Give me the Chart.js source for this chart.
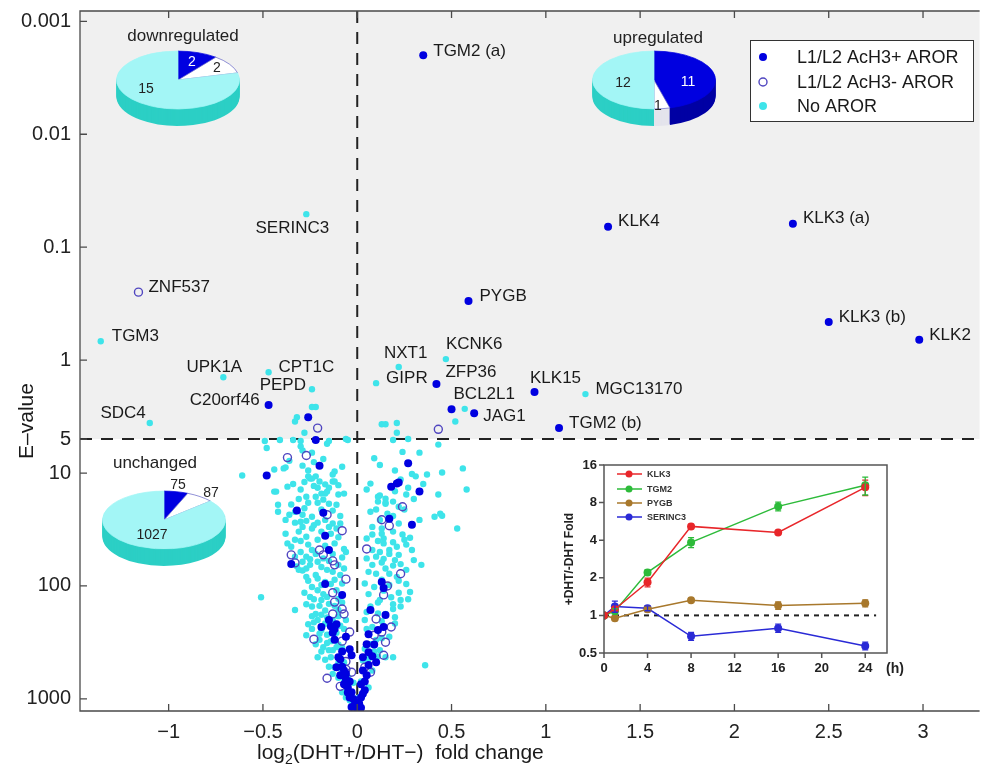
<!DOCTYPE html>
<html lang="en">
<head>
<meta charset="UTF-8" />
<title>DHT response volcano plot</title>
<script src="https://cdn.jsdelivr.net/npm/chart.js@4"></script>
<style>
  body { margin: 0; background: #fff; }
  .wrap { position: relative; width: 985px; height: 770px; overflow: hidden; }
  .wrap canvas { position: absolute; }
</style>
</head>
<body>
<div class="wrap">
  <canvas id="main" width="985" height="770" style="left:0;top:0"></canvas>
  <canvas id="pieDown" width="140" height="150"></canvas>
  <canvas id="pieUp" width="140" height="150"></canvas>
  <canvas id="pieSame" width="140" height="150"></canvas>
  <canvas id="inset" width="370" height="240" style="left:545px;top:450px"></canvas>
</div>

<script>
// ---- data: [log2 fold change, E-value] ----
const geneNames  = ['TGM2 (a)', 'KLK4', 'KLK3 (a)', 'KLK3 (b)', 'KLK2', 'SERINC3', 'ZNF537', 'TGM3', 'UPK1A', 'CPT1C', 'PEPD', 'C20orf46', 'SDC4', 'PYGB', 'KCNK6', 'NXT1', 'GIPR', 'ZFP36', 'BCL2L1', 'JAG1', 'KLK15', 'MGC13170', 'TGM2 (b)'];
const geneFold   = [0.35, 1.33, 2.31, 2.50, 2.98, -0.27, -1.16, -1.36, -0.71, -0.47, -0.24, -0.47, -1.10, 0.59, 0.47, 0.22, 0.10, 0.42, 0.50, 0.62, 0.94, 1.21, 1.07];
const geneEvalue = [0.002, 0.066, 0.062, 0.46, 0.66, 0.051, 0.25, 0.68, 1.42, 1.28, 1.81, 2.5, 3.6, 0.30, 0.98, 1.15, 1.6, 1.63, 2.73, 2.96, 1.92, 2.0, 4.0];
const geneClass  = ['pos', 'pos', 'pos', 'pos', 'pos', 'none', 'neg', 'none', 'none', 'none', 'none', 'pos', 'none', 'pos', 'none', 'none', 'none', 'pos', 'pos', 'pos', 'pos', 'none', 'pos'];

const acPosPoints = [
  [-0.26,3.2],[-0.22,5.1],[-0.20,8.6],[-0.48,10.5],[-0.32,21.5],[-0.18,22.5],[-0.17,36],[-0.15,48],[-0.35,64],[-0.17,96],
  [-0.08,120],[-0.15,200],[-0.14,227],[-0.12,241],[-0.11,218],[-0.19,231],[-0.06,282],[-0.04,363],[-0.03,411],[-0.10,428],
  [-0.09,446],[-0.11,525],[-0.07,560],[-0.09,618],[-0.06,671],[-0.05,791],[-0.04,970],[-0.03,875],[-0.01,1070],[0.0,1240],
  [-0.08,520],[-0.06,600],[-0.04,700],[-0.07,740],[-0.02,1000],[-0.05,880],[-0.03,1180],[-0.08,380],[-0.12,300],[-0.13,260],
  [0.27,8.2],[0.21,12.4],[0.18,13.2],[0.22,12.1],[0.33,14.6],[0.29,28.7],[0.17,25.4],[0.13,92],[0.14,104],[0.15,181],
  [0.07,163],[0.14,231],[0.11,246],[0.06,267],[0.05,328],[0.06,386],[0.03,428],[0.10,474],[0.05,618],[0.02,743],
  [0.04,840],[0.02,970],[-0.01,1140],[0.03,560],[0.06,500],[0.04,700],[0.08,420],[0.09,330],[0.01,1100],[0.03,900],[0.02,1200]
];
const acNegPoints = [
  [-0.21,4.0],[-0.37,7.3],[-0.27,7.0],[-0.16,23.4],[-0.08,32.4],[-0.35,53],[-0.33,62.5],[-0.20,48],[-0.18,53],[-0.13,60],
  [-0.12,65],[-0.06,87],[-0.13,115],[-0.12,139],[-0.13,177],[-0.08,160],[-0.07,177],[-0.23,296],[-0.04,256],[-0.08,308],
  [-0.06,466],[-0.16,657],[-0.09,774],[-0.03,581],[-0.06,547],
  [0.43,4.1],[0.24,19.9],[0.13,25.9],[0.17,29.3],[0.05,47],[0.23,78],[0.16,100],[0.14,120],[0.10,196],[0.18,231],
  [0.09,273],[0.13,256],[0.15,315],[0.14,411],[0.07,581],[0.04,525]
];
const noArorPoints = [
  [-0.24,2.6],[-0.22,2.6],[-0.32,3.2],[-0.33,3.5],[-0.28,4.4],[-0.16,5.5],[-0.05,5.1],
  [0.13,3.7],[0.15,3.7],[0.21,3.6],[0.21,4.4],[0.52,3.5],[0.57,2.7],
  [-0.49,5.2],[-0.48,6.0],[-0.41,5.1],[-0.34,5.1],[-0.30,5.2],[-0.30,5.8],[-0.29,6.3],[-0.24,6.6],[-0.15,5.2],[-0.06,5.0],
  [0.19,5.1],[0.27,5.0],[0.43,5.6],
  [-0.61,10.5],[-0.39,9.1],[-0.38,8.9],[-0.29,8.6],[-0.12,9.7],[-0.13,10.3],
  [0.09,7.4],[0.33,6.6],[0.56,9.1],[0.45,9.9],[0.37,10.3],
  [-0.26,10.7],[-0.25,11.2],[-0.22,10.7],[-0.20,11.9],[-0.13,11.9],[-0.37,13.2],[-0.43,14.6],[-0.27,16.2],[-0.22,16.2],
  [-0.19,15.2],[-0.16,14.6],[-0.07,15.2],[-0.42,19.1],[-0.26,18.3],[-0.21,18.3],[-0.15,18.7],[-0.11,19.1],
  [-0.33,22],[-0.36,23.4],[-0.29,23.4],[-0.27,26.5],[-0.33,27.5],[-0.29,30],[-0.31,33],[-0.24,24.4],[-0.21,27.5],[-0.24,31],
  [-0.19,33],[-0.13,28],[-0.11,31],[-0.14,34.5],[-0.27,36.7],[-0.33,39],[-0.37,42],[-0.12,42],[-0.07,47],[-0.24,48],
  [-0.27,55],[-0.13,52],[-0.06,50],[-0.33,55],[-0.38,34.5],[-0.42,22],[-0.44,14.6],[-0.17,15.2],[-0.18,17.2],[-0.10,15.5],
  [-0.12,11.9],[-0.17,12.6],[-0.21,13.5],[-0.24,11.2],
  [-0.29,73],[-0.25,65],[-0.21,61],[-0.16,72],[-0.27,83],[-0.22,80],[-0.24,102],[-0.21,109],[-0.17,92],[-0.23,131],
  [-0.19,133],[-0.15,144],[-0.22,177],[-0.27,273],[-0.19,246],[-0.22,328],[-0.18,348],[-0.15,370],[-0.21,428],[-0.14,428],
  [-0.12,525],[-0.14,308],[-0.11,348],[-0.29,61],[-0.31,72],[-0.24,152],[-0.26,218],[-0.51,126],[-0.33,163],[-0.21,200],
  [-0.13,200],[-0.10,163],[-0.11,109],[-0.14,96],[-0.09,80],[-0.10,65],
  [-0.07,474],[-0.05,640],[-0.08,875],[-0.04,1030],[-0.02,720],[-0.06,970],
  [-0.36,7.8],[-0.23,8.0],[-0.18,7.5],[-0.08,8.8],[-0.26,9.5],[-0.44,9.3],
  [-0.34,12.5],[-0.30,14],[-0.28,12],[-0.23,13],[-0.15,13.5],[-0.10,12.8],[-0.31,17],[-0.35,19],[-0.28,20.5],[-0.19,21],
  [-0.13,21.5],[-0.09,24],[-0.38,26],[-0.30,27],[-0.17,26],[-0.23,29],[-0.15,30],[-0.09,28],
  [-0.35,45],[-0.30,40],[-0.26,43],[-0.21,39],[-0.17,44],[-0.10,37],[-0.30,50],[-0.22,52],[-0.18,57],[-0.15,60],
  [-0.08,56],[-0.25,58],[-0.32,67],[-0.27,70],[-0.19,68],[-0.13,75],[-0.07,70],[-0.26,90],[-0.21,86],[-0.19,98],
  [-0.12,88],[-0.08,95],
  [-0.28,115],[-0.25,125],[-0.18,118],[-0.16,125],[-0.10,130],[-0.27,145],[-0.20,150],[-0.17,165],[-0.12,150],[-0.08,140],
  [-0.24,185],[-0.19,180],[-0.16,190],[-0.10,185],[-0.06,200],[-0.23,210],[-0.17,215],[-0.09,225],[-0.24,240],[-0.20,265],
  [-0.16,270],[-0.11,260],[-0.07,240],[-0.20,300],[-0.16,320],[-0.10,330],[-0.19,380],[-0.13,370],[-0.08,350],
  [-0.17,450],[-0.10,480],[-0.15,520],[-0.08,560],[-0.13,600],[-0.10,650],[-0.07,700],[-0.05,820],
  [0.07,12.4],[0.23,11.4],[0.31,10.7],[0.26,15.5],[0.12,15.8],[0.15,16.9],[0.15,18.3],[0.19,17.9],[0.22,19.9],[0.11,17.9],
  [0.58,14.0],[0.43,15.5],[0.41,24.4],[0.44,22.9],[0.45,23.9],[0.53,31],
  [0.08,35],[0.13,34.5],[0.14,38],[0.21,45],[0.25,39],[0.28,37.4],[0.29,48],[0.30,59],[0.34,65],[0.08,65],
  [0.14,57.5],[0.17,52],[0.23,64],
  [0.11,16.2],[0.15,18.7],[0.10,21],[0.16,22.9],[0.08,30],[0.13,31],[0.14,42],[0.08,48],[0.17,48],[0.10,55],
  [0.20,59],[0.15,70],[0.10,78],[0.21,83],[0.26,96],[0.09,102],[0.18,126],[0.12,133],[0.23,152],[0.07,152],
  [0.15,177],[0.08,231],[0.17,282],[0.07,328],[0.12,370],[0.03,456],[0.08,560],[0.15,428],[0.19,428],[0.02,700],
  [0.06,791],[0.01,970],[0.28,113],[0.27,131],[0.23,133],[0.20,189],[0.36,504],
  [0.24,6.5],[0.12,8.5],[0.20,9.5],[0.29,10.2],[0.35,12.5],[0.27,13.5],[0.05,14],[0.20,14.5],[0.30,17],[0.25,21],
  [0.19,24],[0.07,22],[0.33,26],[0.22,28],[0.12,26],
  [0.19,33],[0.24,35],[0.05,38],[0.11,40],[0.19,41],[0.26,43],[0.12,50],[0.22,53],[0.05,57],[0.13,62],
  [0.19,66],[0.26,72],[0.06,75],[0.17,78],[0.13,88],[0.22,90],[0.04,95],[0.17,98],
  [0.14,110],[0.22,115],[0.06,118],[0.11,140],[0.19,145],[0.05,170],[0.11,175],[0.19,160],[0.04,200],[0.13,205],
  [0.20,215],[0.05,240],[0.13,290],[0.10,300],[0.04,360],[0.09,380],[0.06,440],[0.11,420]
];

const classNames = ['L1/L2 AcH3+ AROR', 'L1/L2 AcH3- AROR', 'No AROR'];
const eCutoff = 5;
const foldTicks = [-1, -0.5, 0, 0.5, 1, 1.5, 2, 2.5, 3];
const foldTickLabels = ['\u22121', '\u22120.5', '0', '0.5', '1', '1.5', '2', '2.5', '3'];
const evalTicks = [0.001, 0.01, 0.1, 1, 5, 10, 100, 1000];
const evalTickLabels = ['0.001', '0.01', '0.1', '1', '5', '10', '100', '1000'];

// pie counts: [AcH3+, AcH3-, none]
const downCounts = [2, 2, 15];
const upCounts = [11, 1, 12];
const unchangedCounts = [75, 87, 1027];

// inset time course
const insetHours = [0, 1, 4, 8, 16, 24];
const insetGenes = ['KLK3', 'TGM2', 'PYGB', 'SERINC3'];
const klk3Fold = [1, 1.12, 1.84, 5.16, 4.62, 10.6];
const tgm2Fold = [1, 1.08, 2.21, 3.84, 7.46, 11.0];
const pygbFold = [1, 0.95, 1.12, 1.32, 1.20, 1.25];
const serinc3Fold = [1, 1.18, 1.14, 0.68, 0.79, 0.57];
const klk3Err = [0, 0.05, 0.15, 0.2, 0.15, 1.5];
const tgm2Err = [0, 0.05, 0.1, 0.35, 0.6, 1.8];
const pygbErr = [0, 0.04, 0.05, 0.05, 0.08, 0.08];
const serinc3Err = [0, 0.12, 0.05, 0.05, 0.06, 0.04];
const hourTicks = [0, 4, 8, 12, 16, 20, 24];
const insetFoldTicks = [0.5, 1, 2, 4, 8, 16];
const insetFoldLabels = ['0.5', '1', '2', '4', '8', '16'];

// ---- styles ----
const FONT = '"Liberation Sans", Arial, Helvetica, sans-serif';
const BLUE = '#0000e0';
const OPEN = '#5046c0';
const CYAN = '#3ee4ea';
Chart.defaults.font.family = FONT;
Chart.defaults.color = '#222';

// label placement next to each gene dot: [dx, dy, align]
const geneLabelPos = [
  [10,-4,'left'], [10,-5,'left'], [10,-5,'left'], [10,-5,'left'], [10,-4,'left'],
  [-14,14,'center'], [10,-5,'left'], [11,-5,'left'], [-9,-10,'center'], [10,-5,'left'],
  [-6,-4,'right'], [-9,-5,'right'], [-4,-10,'right'], [11,-5,'left'], [0,-15,'left'],
  [7,-14,'center'], [10,-5,'left'], [9,-12,'left'], [2,-15,'left'], [9,3,'left'],
  [21,-14,'center'], [10,-5,'left'], [10,-5,'left']
];

const toXY = pts => pts.map(p => ({ x: p[0], y: p[1] }));
const genesOf = cls => geneNames.map((g, i) => [geneFold[i], geneEvalue[i], geneClass[i]])
  .filter(p => p[2] === cls).map(p => [p[0], p[1]]);

const volcanoDecor = {
  id: 'volcanoDecor',
  beforeDraw(chart) {
    const { ctx, chartArea: a, scales: { y } } = chart;
    const y5 = y.getPixelForValue(eCutoff);
    ctx.save();
    ctx.fillStyle = '#f0f0f0';
    ctx.fillRect(a.left, a.top, a.right - a.left, y5 - a.top);
    ctx.restore();
  },
  beforeDatasetsDraw(chart) {
    const { ctx, chartArea: a, scales: { x, y } } = chart;
    const y5 = y.getPixelForValue(eCutoff);
    const x0 = x.getPixelForValue(0);
    ctx.save();
    ctx.strokeStyle = '#222';
    ctx.lineWidth = 2;
    ctx.setLineDash([12, 9]);
    ctx.beginPath();
    ctx.moveTo(a.left, y5); ctx.lineTo(a.right, y5);
    ctx.moveTo(x0, a.top); ctx.lineTo(x0, a.bottom);
    ctx.stroke();
    ctx.restore();
  },
  afterDatasetsDraw(chart) {
    const { ctx, chartArea: a, scales: { x, y } } = chart;
    ctx.save();
    // frame and inward ticks
    ctx.strokeStyle = '#4a4a4a';
    ctx.lineWidth = 1.3;
    ctx.beginPath();
    ctx.moveTo(a.right, a.top); ctx.lineTo(a.left, a.top);
    ctx.lineTo(a.left, a.bottom); ctx.lineTo(a.right, a.bottom);
    evalTicks.forEach(v => {
      const py = y.getPixelForValue(v);
      ctx.moveTo(a.left, py); ctx.lineTo(a.left + 7, py);
    });
    foldTicks.forEach(v => {
      const px = x.getPixelForValue(v);
      ctx.moveTo(px, a.bottom); ctx.lineTo(px, a.bottom - 7);
      ctx.moveTo(px, a.top); ctx.lineTo(px, a.top + 7);
    });
    ctx.stroke();

    // gene labels
    ctx.font = '17px ' + FONT;
    ctx.fillStyle = '#1a1a1a';
    ctx.textBaseline = 'middle';
    geneNames.forEach((g, i) => {
      const px = x.getPixelForValue(geneFold[i]);
      const py = y.getPixelForValue(geneEvalue[i]);
      const [dx, dy, align] = geneLabelPos[i];
      ctx.textAlign = align;
      ctx.fillText(g, px + dx, py + dy);
    });

    // legend
    ctx.fillStyle = '#fff';
    ctx.fillRect(750, 40, 223, 81);
    ctx.strokeStyle = '#333';
    ctx.lineWidth = 1;
    ctx.strokeRect(750.5, 40.5, 223, 81);
    const rows = [57, 82, 106];
    chart.data.datasets.forEach((ds, i) => {
      ctx.beginPath();
      ctx.arc(763, rows[i], 4, 0, Math.PI * 2);
      if (i === 1) {
        ctx.strokeStyle = OPEN; ctx.lineWidth = 1.4; ctx.stroke();
      } else {
        ctx.fillStyle = ds.backgroundColor; ctx.fill();
      }
      ctx.fillStyle = '#1a1a1a';
      ctx.textAlign = 'left';
      ctx.font = '18px ' + FONT;
      ctx.fillText(ds.label, 797, rows[i] + 1);
    });
    ctx.restore();
  },
  afterDraw(chart) {
    const ctx = chart.ctx;
    ctx.save();
    ctx.fillStyle = '#1a1a1a';
    ctx.textBaseline = 'alphabetic';
    ctx.textAlign = 'left';
    // x axis title with subscript
    let cx = 257;
    const base = 759;
    ctx.font = '21px ' + FONT;
    ctx.fillText('log', cx, base);
    cx += ctx.measureText('log').width;
    ctx.font = '14px ' + FONT;
    ctx.fillText('2', cx, base + 5);
    cx += ctx.measureText('2').width;
    ctx.font = '21px ' + FONT;
    ctx.fillText('(DHT+/DHT\u2212)  fold change', cx, base);
    // y axis title
    ctx.translate(27, 421);
    ctx.rotate(-Math.PI / 2);
    ctx.textAlign = 'center';
    ctx.textBaseline = 'middle';
    ctx.fillText('E\u2013value', 0, 0);
    ctx.restore();
  }
};

new Chart(document.getElementById('main'), {
  type: 'scatter',
  data: {
    datasets: [
      { label: classNames[0], data: toXY(acPosPoints.concat(genesOf('pos'))),
        pointRadius: 4, backgroundColor: BLUE, borderColor: BLUE, borderWidth: 0 },
      { label: classNames[1], data: toXY(acNegPoints.concat(genesOf('neg'))),
        pointRadius: 4, backgroundColor: 'rgba(255,255,255,0)', borderColor: OPEN, borderWidth: 1.4 },
      { label: classNames[2], data: toXY(noArorPoints.concat(genesOf('none'))),
        pointRadius: 3.2, backgroundColor: CYAN, borderColor: CYAN, borderWidth: 0 }
    ]
  },
  options: {
    responsive: false,
    animation: false,
    events: [],
    layout: { padding: { top: 11, right: 0, left: 0, bottom: 0 } },
    plugins: { legend: { display: false }, tooltip: { enabled: false } },
    scales: {
      x: {
        type: 'linear', min: -1.47, max: 3.3,
        grid: { display: false, drawTicks: false }, border: { display: false },
        ticks: { font: { size: 20 }, color: '#222', padding: 9, maxRotation: 0,
                 callback: (v, i) => foldTickLabels[i] },
        afterBuildTicks: s => { s.ticks = foldTicks.map(v => ({ value: v })); },
        afterFit: s => { s.height = 59; s.paddingLeft = 0; s.paddingRight = 0; }
      },
      y: {
        type: 'logarithmic', reverse: true, min: 0.00081, max: 1280, bounds: 'data',
        grid: { display: false, drawTicks: false }, border: { display: false },
        ticks: { font: { size: 20 }, color: '#222', padding: 9,
                 callback: (v, i) => evalTickLabels[i] },
        afterBuildTicks: s => { s.ticks = evalTicks.map(v => ({ value: v })); },
        afterFit: s => { s.width = 80; s.paddingTop = 0; s.paddingBottom = 0; }
      }
    }
  },
  plugins: [volcanoDecor]
});

// ---- 3D pies ----
const pieFill = [BLUE, '#ffffff', '#a3f6f6'];
const pieSide = ['#0000a4', '#e4e4ec', '#2ccfc5'];
const pieEdge = [BLUE, '#6a6ac8', '#a3f6f6'];
const SQUASH = 0.47;
const DEPTH = 17;

function makePie(id, title, counts, centre, titleAt, countAt) {
  const canvas = document.getElementById(id);
  const offX = centre[0] - 70, offY = centre[1] - 82;
  canvas.style.left = offX + 'px';
  canvas.style.top = offY + 'px';
  return new Chart(canvas, {
    type: 'pie',
    data: {
      labels: classNames,
      datasets: [{ data: counts, backgroundColor: pieFill, borderColor: pieEdge, borderWidth: 1, clip: false }]
    },
    options: {
      responsive: false, animation: false, events: [],
      layout: { padding: { left: 8, right: 8, top: 20, bottom: 6 } },
      plugins: { legend: { display: false }, tooltip: { enabled: false } }
    },
    plugins: [{
      id: 'pie3d',
      beforeDatasetsDraw(chart) {
        const ctx = chart.ctx;
        const arcs = chart.getDatasetMeta(0).data;
        const cx = arcs[0].x, cy = arcs[0].y;
        ctx.save();
        ctx.translate(cx, cy); ctx.scale(1, SQUASH); ctx.translate(-cx, -cy);
        for (let d = DEPTH; d >= 1; d--) {
          ctx.save();
          ctx.translate(0, d / SQUASH);
          arcs.forEach((arc, i) => {
            const side = Object.create(arc);
            side.options = Object.assign({}, arc.options,
              { backgroundColor: pieSide[i], borderColor: pieSide[i], borderWidth: 0 });
            arc.draw.call(side, ctx);
          });
          ctx.restore();
        }
      },
      afterDatasetsDraw(chart) {
        chart.ctx.restore();
      },
      afterDraw(chart) {
        const ctx = chart.ctx;
        ctx.save();
        ctx.textAlign = 'center';
        ctx.textBaseline = 'middle';
        ctx.font = '17px ' + FONT;
        ctx.fillStyle = '#222';
        ctx.fillText(title, titleAt[0] - offX, titleAt[1] - offY);
        ctx.font = '14px ' + FONT;
        counts.forEach((c, i) => {
          ctx.fillStyle = countAt[i][2];
          ctx.fillText(String(c), countAt[i][0] - offX, countAt[i][1] - offY);
        });
        ctx.restore();
      }
    }]
  });
}

makePie('pieDown', 'downregulated', downCounts, [178, 80], [183, 36],
  [[192, 62, '#fff'], [217, 68, '#222'], [146, 89, '#222']]);
makePie('pieUp', 'upregulated', upCounts, [654, 80], [658, 38],
  [[688, 82, '#fff'], [658, 106, '#222'], [623, 83, '#222']]);
makePie('pieSame', 'unchanged', unchangedCounts, [164, 520], [155, 463],
  [[178, 485, '#222'], [211, 493, '#222'], [152, 535, '#222']]);

// ---- inset time course ----
const insetSeries = [klk3Fold, tgm2Fold, pygbFold, serinc3Fold];
const insetErrors = [klk3Err, tgm2Err, pygbErr, serinc3Err];
const insetColors = ['#e8262a', '#2dbb3a', '#a8782c', '#2a2ad6'];

const insetDecor = {
  id: 'insetDecor',
  beforeDatasetsDraw(chart) {
    const { ctx, scales: { x, y } } = chart;
    ctx.save();
    ctx.strokeStyle = '#222';
    ctx.lineWidth = 2;
    ctx.setLineDash([5, 5]);
    ctx.beginPath();
    ctx.moveTo(x.getPixelForValue(0), y.getPixelForValue(1));
    ctx.lineTo(x.getPixelForValue(25), y.getPixelForValue(1));
    ctx.stroke();
    ctx.restore();
  },
  afterDatasetsDraw(chart) {
    const { ctx, chartArea: a, scales: { x, y } } = chart;
    ctx.save();
    // error bars
    ctx.lineWidth = 1.3;
    insetSeries.forEach((vals, s) => {
      ctx.strokeStyle = insetColors[s];
      vals.forEach((v, j) => {
        const e = insetErrors[s][j];
        if (!e) return;
        const px = x.getPixelForValue(insetHours[j]);
        const t = y.getPixelForValue(v + e), b = y.getPixelForValue(v - e);
        ctx.beginPath();
        ctx.moveTo(px, t); ctx.lineTo(px, b);
        ctx.moveTo(px - 3, t); ctx.lineTo(px + 3, t);
        ctx.moveTo(px - 3, b); ctx.lineTo(px + 3, b);
        ctx.stroke();
      });
    });
    // frame and outer ticks
    ctx.strokeStyle = '#555';
    ctx.lineWidth = 1.5;
    ctx.strokeRect(a.left, a.top, a.right - a.left, a.bottom - a.top);
    ctx.beginPath();
    insetFoldTicks.forEach(v => {
      const py = y.getPixelForValue(v);
      ctx.moveTo(a.left - 5, py); ctx.lineTo(a.left, py);
    });
    hourTicks.forEach(v => {
      const px = x.getPixelForValue(v);
      ctx.moveTo(px, a.bottom); ctx.lineTo(px, a.bottom + 5);
    });
    ctx.stroke();
    // legend
    const rows = [24, 39, 53, 67];
    insetGenes.forEach((g, i) => {
      ctx.strokeStyle = insetColors[i];
      ctx.fillStyle = insetColors[i];
      ctx.lineWidth = 1.5;
      ctx.beginPath();
      ctx.moveTo(72, rows[i]); ctx.lineTo(97, rows[i]);
      ctx.stroke();
      ctx.beginPath();
      ctx.arc(84, rows[i], 3.5, 0, Math.PI * 2);
      ctx.fill();
      ctx.fillStyle = '#333';
      ctx.font = 'bold 9px ' + FONT;
      ctx.textAlign = 'left';
      ctx.textBaseline = 'middle';
      ctx.fillText(g, 102, rows[i] + 1);
    });
    // axis title and unit
    ctx.fillStyle = '#222';
    ctx.font = 'bold 14px ' + FONT;
    ctx.fillText('(h)', 341, 219);
    ctx.translate(25, (a.top + a.bottom) / 2);
    ctx.rotate(-Math.PI / 2);
    ctx.textAlign = 'center';
    ctx.font = 'bold 12px ' + FONT;
    ctx.fillText('+DHT/-DHT Fold', 0, 0);
    ctx.restore();
  }
};

new Chart(document.getElementById('inset'), {
  type: 'line',
  data: {
    datasets: insetGenes.map((g, i) => ({
      label: g,
      data: insetHours.map((h, j) => ({ x: h, y: insetSeries[i][j] })),
      borderColor: insetColors[i],
      backgroundColor: insetColors[i],
      pointBackgroundColor: insetColors[i],
      pointBorderWidth: 0,
      pointRadius: 4,
      borderWidth: 1.5,
      tension: 0
    }))
  },
  options: {
    responsive: false, animation: false, events: [],
    layout: { padding: { top: 15, right: 28, left: 0, bottom: 0 } },
    plugins: { legend: { display: false }, tooltip: { enabled: false } },
    scales: {
      x: {
        type: 'linear', min: 0, max: 26,
        grid: { display: false, drawTicks: false }, border: { display: false },
        ticks: { font: { size: 13, weight: 'bold' }, color: '#222', padding: 8, maxRotation: 0 },
        afterBuildTicks: s => { s.ticks = hourTicks.map(v => ({ value: v })); },
        afterFit: s => { s.height = 37; s.paddingLeft = 0; s.paddingRight = 0; }
      },
      y: {
        type: 'logarithmic', min: 0.5, max: 16, bounds: 'data',
        grid: { display: false, drawTicks: false }, border: { display: false },
        ticks: { font: { size: 13, weight: 'bold' }, color: '#222', padding: 7,
                 callback: (v, i) => insetFoldLabels[i] },
        afterBuildTicks: s => { s.ticks = insetFoldTicks.map(v => ({ value: v })); },
        afterFit: s => { s.width = 59; s.paddingTop = 0; s.paddingBottom = 0; }
      }
    }
  },
  plugins: [insetDecor]
});
</script>
</body>
</html>
